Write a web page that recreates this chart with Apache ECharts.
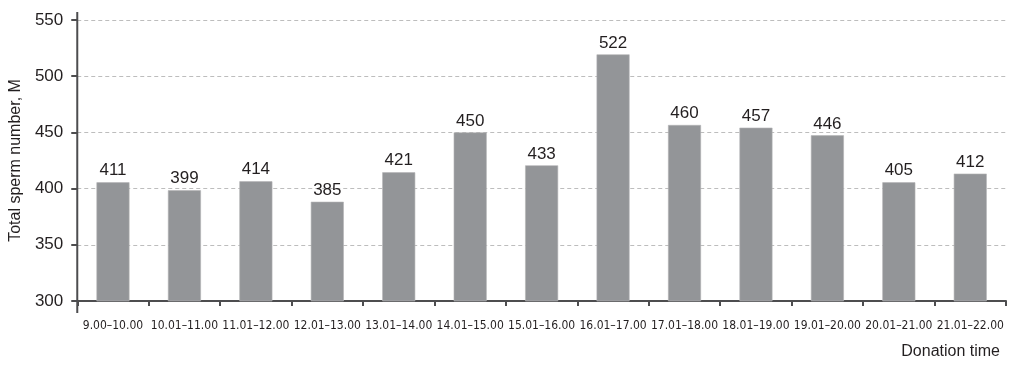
<!DOCTYPE html>
<html><head><meta charset="utf-8">
<script src="https://cdn.jsdelivr.net/npm/echarts@6/dist/echarts.min.js"></script>
<style>html,body{margin:0;padding:0;background:#fff}#c{width:1024px;height:371px}</style>
</head><body><div id="c"></div>
<script>
const categories = ["9.00–10.00","10.01–11.00","11.01–12.00","12.01–13.00","13.01–14.00","14.01–15.00","15.01–16.00","16.01–17.00","17.01–18.00","18.01–19.00","19.01–20.00","20.01–21.00","21.01–22.00"];
// bar heights as drawn in the figure
const barHeights = [405.6, 398.5, 406.5, 388.3, 414.5, 450, 420.7, 519.4, 456.6, 454.2, 447.4, 405.6, 413.3];
// values printed above the bars
const printedLabels = [411, 399, 414, 385, 421, 450, 433, 522, 460, 457, 446, 405, 412];
const yTicks = [300, 350, 400, 450, 500, 550];

const chart = echarts.init(document.getElementById('c'), null, {renderer: 'canvas'});
const option = {
  animation: false,
  grid: {left: 76, right: 18, top: 20, bottom: 70},
  xAxis: {
    type: 'category',
    data: categories,
    name: 'Donation time',
    nameLocation: 'end',
    nameGap: 0,
    nameTextStyle: {fontFamily: 'Liberation Sans', fontSize: 16, color: '#231f20', align: 'right', verticalAlign: 'top', padding: [43, 6, 0, 0]},
    axisLine: {lineStyle: {color: '#4d4d4f', width: 2}},
    axisTick: {show: true, length: 5, lineStyle: {color: '#4d4d4f', width: 2}, alignWithLabel: false},
    axisLabel: {fontFamily: '"DejaVu Sans Condensed"', fontSize: 12, color: '#231f20', margin: 19, interval: 0}
  },
  yAxis: {
    type: 'value',
    min: yTicks[0], max: yTicks[yTicks.length - 1], interval: 50,
    name: 'Total sperm number, M',
    nameLocation: 'middle',
    nameGap: 53,
    nameTextStyle: {fontFamily: 'Liberation Sans', fontSize: 16, color: '#231f20'},
    axisLine: {show: false},
    axisTick: {show: true, length: 6, lineStyle: {color: '#4d4d4f', width: 2}},
    axisLabel: {fontFamily: 'Liberation Sans', fontSize: 17, color: '#231f20', margin: 14},
    splitLine: {lineStyle: {color: '#bdbdbd', type: [4, 3], width: 1}}
  },
  series: [{
    type: 'bar',
    data: barHeights,
    barWidth: 33,
    itemStyle: {color: '#939598', borderColor: '#b3b4b6', borderWidth: 0.6},
    label: {
      show: true, position: 'top', distance: 3,
      fontFamily: 'Liberation Sans', fontSize: 17, color: '#231f20',
      formatter: p => String(printedLabels[p.dataIndex])
    }
  }]
};
chart.setOption(option);
// y axis line extending slightly beyond the plot area, as in the figure
const yTopPx = chart.convertToPixel({yAxisIndex: 0}, yTicks[yTicks.length - 1]);
const yBotPx = chart.convertToPixel({yAxisIndex: 0}, yTicks[0]);
const c0 = chart.convertToPixel({xAxisIndex: 0}, 0);
const c1 = chart.convertToPixel({xAxisIndex: 0}, 1);
const xAxisPx = c0 - (c1 - c0) / 2;
chart.setOption({graphic: [{type: 'line', shape: {x1: xAxisPx, y1: yTopPx - 8, x2: xAxisPx, y2: yBotPx + 12}, style: {stroke: '#4d4d4f', lineWidth: 2}, z: 10}]});
</script></body></html>
